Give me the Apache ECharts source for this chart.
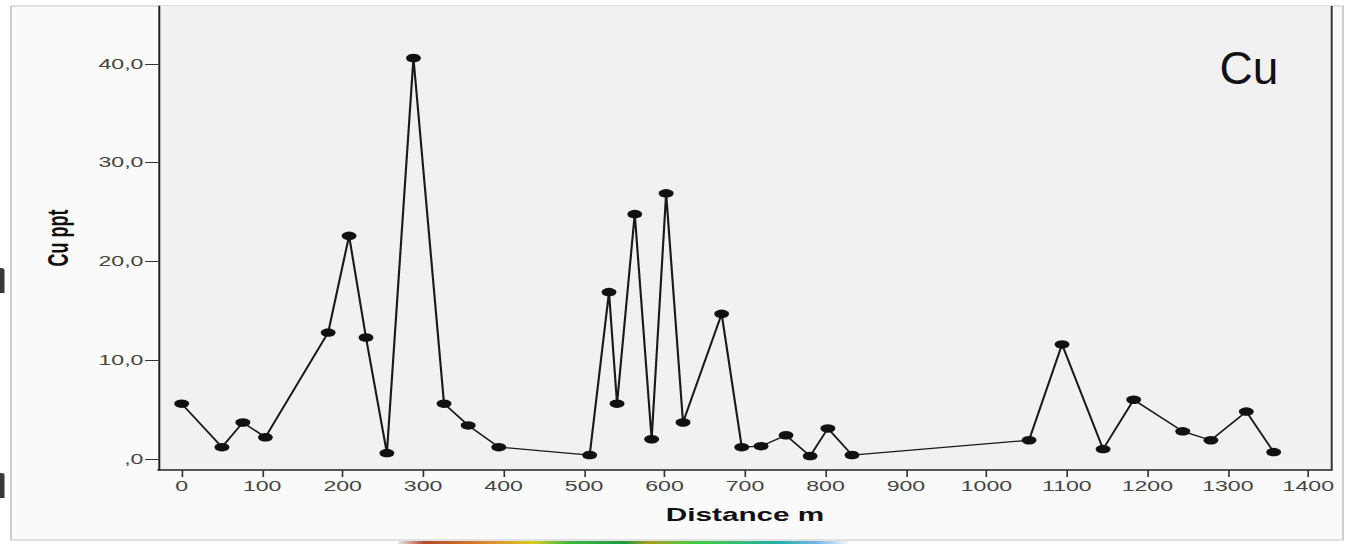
<!DOCTYPE html>
<html><head><meta charset="utf-8">
<script src="https://cdn.jsdelivr.net/npm/echarts@6/dist/echarts.min.js"></script>
<style>
html,body{margin:0;padding:0;background:#fff;overflow:hidden}
#wrap{width:1347px;height:544px;overflow:hidden;position:relative}
#c{width:816px;height:544px;transform:scaleX(1.650735);transform-origin:0 0}
</style></head><body>
<div id="wrap"><div id="c"></div></div>
<script>
// ---- data ----
const distance = [0, 50, 76, 104, 182, 208, 229, 255, 288, 326, 356, 394, 507, 531, 541, 563, 584, 602, 623, 671, 696, 720, 751, 781, 803, 833, 1053, 1094, 1145, 1183, 1244, 1279, 1323, 1357];
const cuPpt    = [5.6, 1.2, 3.7, 2.2, 12.8, 22.6, 12.3, 0.6, 40.6, 5.6, 3.4, 1.2, 0.4, 16.9, 5.6, 24.8, 2.0, 26.9, 3.7, 14.7, 1.2, 1.3, 2.4, 0.3, 3.1, 0.4, 1.9, 11.6, 1.0, 6.0, 2.8, 1.9, 4.8, 0.7];
const xTicks = [0, 100, 200, 300, 400, 500, 600, 700, 800, 900, 1000, 1100, 1200, 1300, 1400];
const yTicks = [0, 10, 20, 30, 40];
const xTitle = 'Distance m';
const yTitle = 'Cu ppt';
const panelLabel = 'Cu';

const S = 1347 / 816;           // horizontal stretch of the original picture
const X = px => px / S;
const FONT = '"Liberation Sans", Arial, sans-serif';

const chart = echarts.init(document.getElementById('c'), null, {renderer: 'svg'});
chart.setOption({
  backgroundColor: 'transparent',
  animation: false,
  grid: {left: X(158.3), right: X(15.3), top: 6, bottom: 74, show: true,
         containLabel: false, outerBoundsMode: 'none',
         backgroundColor: '#f1f1f1', borderWidth: 0},
  xAxis: {
    type: 'value', min: -29.08, max: 1429.1,
    name: xTitle, nameLocation: 'middle', nameGap: 36,
    nameTextStyle: {fontFamily: FONT, fontSize: 18, fontWeight: 'bold', color: '#111'},
    axisLine: {show: true, onZero: false, lineStyle: {color: '#222', width: 1.6}},
    axisTick: {show: true, length: 7, lineStyle: {color: '#333', width: 1}, customValues: xTicks},
    axisLabel: {margin: 9, fontFamily: FONT, fontSize: 14, color: '#444', customValues: xTicks,
      formatter: v => String(v)},
    splitLine: {show: false}
  },
  yAxis: {
    type: 'value', min: -1.114, max: 45.87,
    name: yTitle, nameLocation: 'middle', nameGap: 52, nameRotate: 90,
    nameTextStyle: {fontFamily: FONT, fontSize: 18, fontWeight: 'bold', color: '#111'},
    axisLine: {show: true, onZero: false, lineStyle: {color: '#222', width: 1.2}},
    axisTick: {show: true, length: 8, lineStyle: {color: '#333', width: 1}, customValues: yTicks},
    axisLabel: {margin: 9, fontFamily: FONT, fontSize: 14, color: '#444', customValues: yTicks,
      formatter: v => v === 0 ? ',0' : v.toFixed(1).replace('.', ',')},
    splitLine: {show: false}
  },
  series: [{
    type: 'line',
    data: distance.map((d, i) => [d, cuPpt[i]]),
    symbol: 'circle', symbolSize: [9, 8.5],
    itemStyle: {color: '#111'},
    lineStyle: {color: '#1a1a1a', width: 1.3},
    z: 5
  }],
  graphic: [
    {type: 'rect', z: -10, silent: true,
     shape: {x: X(11), y: 6, width: X(1343 - 11), height: 534},
     style: {fill: '#fafafa', stroke: '#c6c6c6', lineWidth: 1}},
    {type: 'line', z: 10, silent: true,
     shape: {x1: X(1331.7), y1: 6, x2: X(1331.7), y2: 470},
     style: {stroke: '#333', lineWidth: 1.2}},
    {type: 'rect', z: 10, silent: true,
     shape: {x: X(398), y: 541, width: X(450), height: 3},
     style: {fill: new echarts.graphic.LinearGradient(0, 0, 1, 0, [
       {offset: 0, color: '#e8e8e8'}, {offset: 0.06, color: '#b0482a'},
       {offset: 0.2, color: '#dc8a30'}, {offset: 0.3, color: '#d8cc20'},
       {offset: 0.38, color: '#40b840'}, {offset: 0.5, color: '#1f9a40'},
       {offset: 0.56, color: '#a8a020'}, {offset: 0.66, color: '#44cc44'},
       {offset: 0.84, color: '#22b0a0'}, {offset: 0.93, color: '#70b8e8'},
       {offset: 1, color: '#f4f4f4'}])}},
    {type: 'text', z: 10, silent: true, x: X(1249), y: 68, scaleX: 1 / S,
     style: {text: panelLabel, fontFamily: FONT, fontSize: 46, fill: '#111',
             textAlign: 'center', textVerticalAlign: 'middle'}},
    // fragments of neighbouring content cut by the crop at the left edge
    {type: 'rect', z: 10, silent: true,
     shape: {x: 0, y: 268, width: X(4.5), height: 25, r: [0, 2, 0, 0]},
     style: {fill: '#3a3a3a'}},
    {type: 'rect', z: 10, silent: true,
     shape: {x: 0, y: 473, width: X(4.5), height: 25, r: [0, 2, 0, 0]},
     style: {fill: '#3a3a3a'}}
  ]
});
</script>
</body></html>
